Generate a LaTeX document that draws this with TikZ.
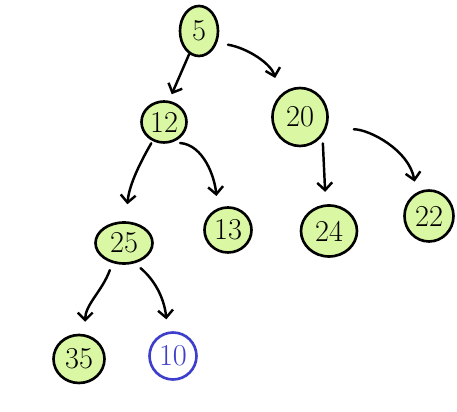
\documentclass[tikz,border=0pt]{standalone}
\usetikzlibrary{shapes.geometric,arrows.meta}
\definecolor{vert}{RGB}{218,247,163}
\definecolor{bleu}{RGB}{62,62,204}
\tikzset{
	sommet/.style={ellipse, draw, line width=1.5pt, fill=vert, inner sep=0pt, font=\LARGE},
	fleche/.style={line width=1.4pt, line cap=round, -{Straight Barb[length=1.5mm,width=3mm]}, shorten <=0.15cm, shorten >=0.25cm}
}
\begin{document}
\begin{tikzpicture}[x=0.02cm, y=0.02cm]
			\useasboundingbox (0,0) rectangle (457,412);
			%Sommets de l'arbre
			\node[sommet, minimum width=0.76cm, minimum height=1cm] (N5) at (199,381) {5};
			\node[sommet, minimum width=0.9cm, minimum height=0.82cm] (N12) at (164,290) {12};
			\node[sommet, minimum width=1.1cm, minimum height=1.16cm] (N20) at (300,295) {20};
			\node[sommet, minimum width=1.14cm, minimum height=0.82cm] (N25) at (124,169) {25};
			\node[sommet, minimum width=0.94cm, minimum height=0.9cm] (N13) at (228,182) {13};
			\node[sommet, minimum width=1.12cm, minimum height=1.02cm] (N24) at (329,181) {24};
			\node[sommet, minimum width=0.98cm, minimum height=1.02cm] (N22) at (429,196) {22};
			\node[sommet, minimum width=1.02cm, minimum height=0.96cm] (N35) at (79,53) {35};
			\node[sommet, fill=white, draw=bleu, text=bleu, minimum size=0.94cm] (N10) at (173,56) {10};
			%Aretes
			\draw[fleche, shorten <=0pt, shorten >=0.14cm] (N5.-113) -- (N12.77);
			\draw[fleche, shorten <=0.22cm, shorten >=0.36cm] (N5.-33) to[out=-10, in=105] (N20.133);
			\draw[fleche, shorten <=0.05cm, shorten >=0.34cm] (N12.-121) to[out=-120, in=85] (N25.85);
			\draw[fleche] (N12.-67) to[out=-5, in=95] (N13.116);
			\draw[fleche, shorten <=0.15cm] (N20.-40) -- (N24.97);
			\draw[fleche, shorten <=0.55cm, shorten >=0.22cm] (N20.-25) to[out=0, in=100] (N22.118);
			\draw[fleche] (N25.-120) to[out=-110, in=90] (N35.76);
			\draw[fleche] (N25.-62) to[out=-40, in=95] (N10.103);
		\end{tikzpicture}
\end{document}
